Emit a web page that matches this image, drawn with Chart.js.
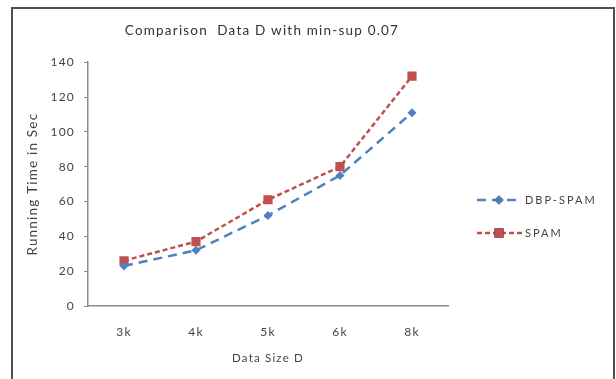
<!DOCTYPE html>
<html>
<head>
<meta charset="utf-8">
<script src="https://cdn.jsdelivr.net/npm/chart.js@4"></script>
<style>
  body { margin: 0; background: #fff; }
  #wrap { position: relative; width: 616px; height: 379px; }
  #frame { position: absolute; left: 11px; top: 7px; width: 600px; height: 380px;
           border: 2px solid #505050; border-bottom: none; pointer-events: none; }
</style>
</head>
<body>
<div id="wrap">
  <canvas id="lineChart1" width="616" height="379"></canvas>
  <div id="frame"></div>
</div>
<script>
const categories = ['3k', '4k', '5k', '6k', '8k'];
const dbpSpam = [23, 32, 52, 75, 111];
const spam = [26, 37, 61, 80, 132];
const seriesNames = ['DBP-SPAM', 'SPAM'];

const BLUE = '#4F81BD';
const RED = '#C0504D';
const TEXT = '#444444';
const FONT = 'Lato, "Open Sans", sans-serif';

// the scanned chart has rather loose letter spacing
const spacing = {
    id: 'spacing',
    beforeDraw(chart) {
        chart.ctx.letterSpacing = '1.2px';
    }
};

// legend drawn like the excel one: dashed line with marker in the middle
const excelLegend = {
    id: 'excelLegend',
    afterDraw(chart) {
        const ctx = chart.ctx;
        const x0 = chart.chartArea.right + 29;
        const rows = [200, 233];
        chart.data.datasets.forEach((ds, i) => {
            const y = rows[i];
            ctx.save();
            ctx.strokeStyle = ds.borderColor;
            ctx.lineWidth = ds.borderWidth;
            ctx.setLineDash(ds.borderDash);
            ctx.beginPath();
            ctx.moveTo(x0, y);
            ctx.lineTo(x0 + 45, y);
            ctx.stroke();
            ctx.setLineDash([]);
            Chart.helpers.drawPoint(ctx, {
                pointStyle: ds.pointStyle,
                radius: ds.pointRadius,
                borderWidth: 0
            }, x0 + 22, y);
            ctx.fillStyle = ds.borderColor;
            ctx.fill();
            ctx.fillStyle = TEXT;
            ctx.font = '11px ' + FONT;
            ctx.letterSpacing = '2px';
            ctx.textBaseline = 'middle';
            ctx.fillText(ds.label, x0 + 48, y);
            ctx.restore();
        });
    }
};

const data = {
    labels: categories,
    datasets: [{
        label: seriesNames[0],
        data: dbpSpam,
        borderColor: BLUE,
        backgroundColor: BLUE,
        borderWidth: 2.5,
        borderDash: [9, 6],
        pointStyle: 'rectRot',
        pointRadius: 4.5,
        pointBorderWidth: 0,
        tension: 0
    }, {
        label: seriesNames[1],
        data: spam,
        borderColor: RED,
        backgroundColor: RED,
        borderWidth: 2.5,
        borderDash: [5, 3],
        pointStyle: 'rect',
        pointRadius: 6.5,
        pointBorderWidth: 0,
        tension: 0
    }]
};

const options = {
    responsive: false,
    animation: false,
    layout: { padding: { left: 12, right: 104, top: 0, bottom: 0 } },
    plugins: {
        legend: { display: false },
        tooltip: { enabled: false },
        title: {
            display: true,
            text: 'Comparison  Data D with min-sup 0.07',
            color: '#333',
            font: { family: FONT, size: 13.5, weight: 'normal' },
            padding: { top: 23, bottom: 23 }
        }
    },
    scales: {
        x: {
            offset: true,
            grid: { display: false, drawTicks: false },
            border: { display: true, color: '#8c8c8c', width: 1.5 },
            ticks: { color: TEXT, font: { family: FONT, size: 12 }, padding: 19 },
            title: {
                display: true,
                text: 'Data Size D',
                color: TEXT,
                font: { family: FONT, size: 11.5 },
                padding: { top: 0, bottom: 14 }
            },
            afterFit: (s) => { s.height = 73; }
        },
        y: {
            min: 0,
            max: 140,
            grid: { drawOnChartArea: false, drawTicks: true, tickLength: 4, color: '#8c8c8c' },
            border: { display: true, color: '#8c8c8c', width: 1.5 },
            ticks: { stepSize: 20, color: TEXT, font: { family: FONT, size: 12 }, padding: 9 },
            title: {
                display: true,
                text: 'Running Time in Sec',
                color: TEXT,
                font: { family: FONT, size: 13.5 },
                padding: { top: 13, bottom: 0 }
            },
            afterFit: (s) => { s.width = 76; }
        },
        // empty right box, only reserves room for the legend so the title centres like excel
        side: {
            type: 'linear',
            position: 'right',
            grid: { display: false, drawTicks: false },
            border: { display: false },
            ticks: { display: false },
            afterFit: (s) => { s.width = 64; }
        }
    }
};

var ctx = document.getElementById('lineChart1').getContext('2d');
var lineChart = new Chart(ctx, {
    type: 'line',
    data: data,
    options: options,
    plugins: [spacing, excelLegend]
});
</script>
</body>
</html>
